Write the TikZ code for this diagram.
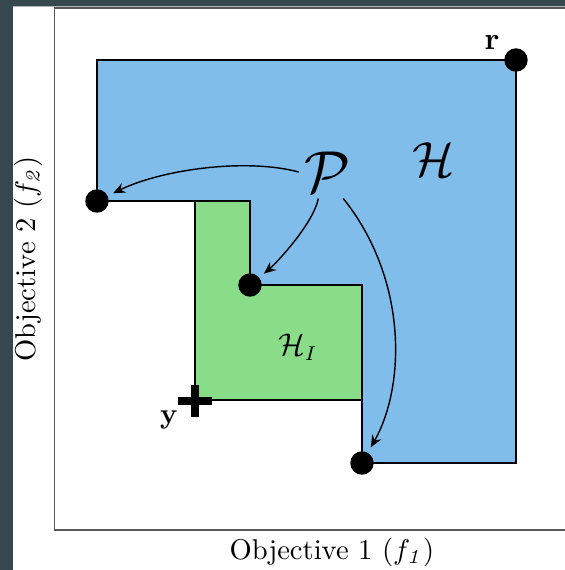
\documentclass[tikz,border=0pt]{standalone}
\usetikzlibrary{arrows.meta}
\definecolor{hvblue}{RGB}{128,189,234}
\definecolor{hvgreen}{RGB}{137,221,136}
\definecolor{slate}{RGB}{55,71,79}
\begin{document}
\begin{tikzpicture}[x=0.35pt,y=0.35pt,
  region/.style={draw=black,line width=0.7pt},
  dot/.style={circle,fill=black,inner sep=0pt,minimum size=8.2pt},
  pointer/.style={-{Stealth[length=4.2pt,width=3.6pt,inset=1.4pt]},line width=0.5pt,shorten >=2pt}]
  \useasboundingbox (0,0) rectangle (565,570);
  % page edges
  \fill[slate] (0,0) rectangle (13,570);
  \fill[slate] (0,564) rectangle (565,570);
  \draw[gray!60,line width=0.4pt] (13,563.5) -- (565,563.5);
  % axes
  \draw[black!65,line width=0.45pt] (565,562) -- (54.5,562) -- (54.5,40) -- (565,40);
  % dominated region
  \draw[region,fill=hvblue] (97,510) -- (516,510) -- (516,107) -- (362,107) -- (362,285)
    -- (250,285) -- (250,369) -- (97,369) -- cycle;
  % improvement region
  \draw[region,fill=hvgreen] (195,369) -- (250,369) -- (250,285) -- (362,285) -- (362,170)
    -- (195,170) -- cycle;
  % reference and Pareto points
  \node[dot] (ref) at (516,510) {};
  \node[dot] (p1) at (97,369) {};
  \node[dot] (p2) at (250,285) {};
  \node[dot] (p3) at (362,107) {};
  % new point y
  \coordinate (ypt) at (195,169);
  \draw[line width=2.8pt] ([xshift=-6pt]ypt) -- ([xshift=6pt]ypt);
  \draw[line width=2.8pt] ([yshift=-5.6pt]ypt) -- ([yshift=5.6pt]ypt);
  % labels
  \node[font=\fontsize{10.5}{12}\selectfont] (rlab) at (492,527) {$\mathbf{r}$};
  \node[font=\fontsize{10}{12}\selectfont] (ylab) at (169,150) {$\mathbf{y}$};
  \node[font=\fontsize{20}{24}\selectfont,inner sep=2pt] (P) at (328,398) {$\mathcal{P}$};
  \node[font=\fontsize{18}{22}\selectfont] (H) at (434,410) {$\mathcal{H}$};
  \node[font=\fontsize{10.5}{13}\selectfont] (HI) at (298,223) {$\mathcal{H}_I$};
  \node (xlab) at (332,18) {Objective 1 ($f_{\mathit{1}}$)};
  \node[rotate=90] (ylab2) at (28,311) {Objective 2 ($f_{\mathit{2}}$)};
  % arrows from P
  \draw[pointer] (P.west) .. controls +(-52,14) and +(66,32) .. (p1);
  \draw[pointer] (P.250) .. controls +(-6,-28) and +(22,18) .. (p2);
  \draw[pointer] (P.300) .. controls +(64,-80) and +(44,78) .. (p3);
\end{tikzpicture}
\end{document}
